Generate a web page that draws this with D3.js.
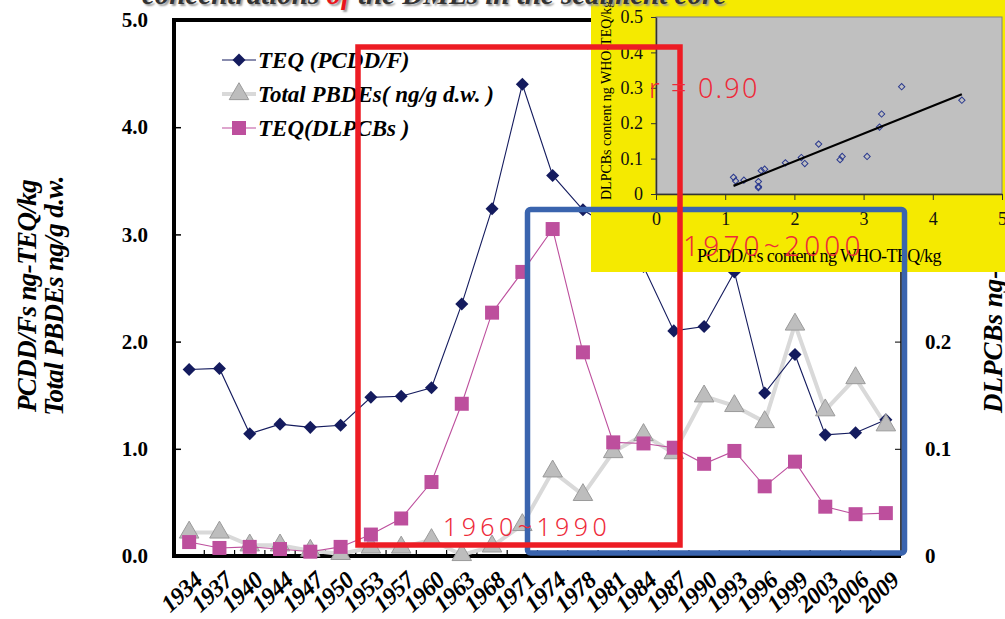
<!DOCTYPE html>
<html><head><meta charset="utf-8">
<script src="https://cdn.jsdelivr.net/npm/d3@7"></script>
<style>body{margin:0;background:#fff;}svg{display:block;}</style>
</head><body>
<svg id="c" width="1005" height="619"></svg>
<script>
const years = ["1934","1937","1940","1944","1947","1950","1953","1957","1960","1963","1968","1971","1974","1978","1981","1984","1987","1990","1993","1996","1999","2003","2006","2009"];
const teqPCDDF = [1.74,1.75,1.14,1.23,1.20,1.22,1.48,1.49,1.57,2.35,3.24,4.40,3.55,3.23,3.05,2.70,2.10,2.14,2.65,1.52,1.88,1.13,1.15,1.27];
const totalPBDEs = [0.22,0.22,0.10,0.10,0.05,0.02,0.08,0.08,0.15,0.01,0.09,0.29,0.79,0.57,0.97,1.13,0.96,1.49,1.40,1.25,2.16,1.36,1.66,1.22];
const teqDLPCBs = [0.013,0.0075,0.0085,0.0065,0.004,0.0085,0.020,0.035,0.069,0.142,0.227,0.265,0.305,0.190,0.106,0.105,0.101,0.086,0.098,0.065,0.088,0.046,0.039,0.040];
const leftTicks = [0,1,2,3,4,5];
const rightTicks = [0,0.1,0.2,0.3,0.4,0.5];
const legendNames = ["TEQ (PCDD/F)","Total PBDEs( ng/g d.w. )","TEQ(DLPCBs )"];
// inset scatter (PCDD/Fs vs DLPCBs)
const scatterX = [1.12,1.15,1.27,1.48,1.48,1.48,1.52,1.57,1.87,2.10,2.15,2.35,2.66,2.69,3.05,3.23,3.26,3.55,4.42];
const scatterY = [0.047,0.037,0.039,0.035,0.021,0.018,0.066,0.070,0.088,0.103,0.086,0.141,0.097,0.106,0.106,0.189,0.226,0.303,0.265];
const fitX = [1.12,4.42];
const fitY = [0.023,0.282];
const insetXTicks = [0,1,2,3,4,5];
const insetYTicks = [0,0.1,0.2,0.3,0.4,0.5];

const svg = d3.select("#c");
const L=174,R=901,T=20,B=556;
const x = d3.scalePoint().domain(years).range([L,R]).padding(0.5);
const y = d3.scaleLinear().domain([0,5]).range([B,T]);
const y2 = d3.scaleLinear().domain([0,0.5]).range([B,T]);
const serif = "Liberation Serif, Times New Roman, serif";

// axes
const gl = svg.append("g").attr("transform",`translate(${L},0)`)
  .call(d3.axisLeft(y).tickValues(leftTicks).tickFormat(d3.format(".1f")).tickSizeInner(-7).tickSizeOuter(0).tickPadding(26));
gl.select(".domain").remove();
gl.selectAll("text").attr("font-family",serif).attr("font-weight","bold").attr("font-size",21).attr("fill","#000");
gl.selectAll("line").attr("stroke","#000").attr("stroke-width",1.5);
gl.selectAll(".tick").filter(d=>d===0||d===5).select("line").remove();

const gr = svg.append("g").attr("transform",`translate(${R},0)`)
  .call(d3.axisRight(y2).tickValues(rightTicks.slice(0,3)).tickFormat(d=>d===0?"0":d3.format(".1f")(d)).tickSizeInner(-6).tickSizeOuter(0).tickPadding(24));
gr.select(".domain").remove();
gr.selectAll("text").attr("font-family",serif).attr("font-weight","bold").attr("font-size",21).attr("fill","#000");
gr.selectAll("line").attr("stroke","#000");
gr.selectAll(".tick").filter(d=>d===0).select("line").remove();

// x ticks at band boundaries
const step = x.step();
svg.append("g").selectAll("line").data(years.slice(1)).join("line")
  .attr("x1",d=>x(d)-step/2).attr("x2",d=>x(d)-step/2).attr("y1",B).attr("y2",B-6)
  .attr("stroke","#000").attr("stroke-width",1.2);
svg.append("g").selectAll("text").data(years).join("text")
  .attr("transform",d=>`translate(${x(d)+9},${B+20}) rotate(-43)`)
  .attr("text-anchor","end").attr("dy","0.35em")
  .attr("font-family",serif).attr("font-weight","bold").attr("font-style","italic").attr("font-size",24)
  .attr("letter-spacing",-0.5)
  .text(d=>d);

// frame
svg.append("line").attr("x1",R).attr("x2",R).attr("y1",T).attr("y2",B).attr("stroke","#000").attr("stroke-width",1.5);
svg.append("path").attr("d",`M${L},${T}H${R}M${L},${T-2}V${B}H${R}`).attr("stroke","#000").attr("stroke-width",4).attr("fill","none");

// axis titles
const yl = svg.append("text").attr("transform","translate(36,296) rotate(-90)").attr("text-anchor","middle")
  .attr("font-family",serif).attr("font-weight","bold").attr("font-style","italic").attr("font-size",27).attr("letter-spacing",-0.6);
yl.append("tspan").attr("x",0).attr("dy",0).text("PCDD/Fs ng-TEQ/kg");
yl.append("tspan").attr("x",0).attr("dy",27).text("Total PBDEs ng/g d.w.");
svg.append("text").attr("transform","translate(1002,413) rotate(-90)").attr("text-anchor","start")
  .attr("font-family",serif).attr("font-weight","bold").attr("font-style","italic").attr("font-size",27)
  .text("DLPCBs ng-TEQ/kg");

// series
const lineL = d3.line().x((d,i)=>x(years[i])).y(d=>y(d));
const lineR = d3.line().x((d,i)=>x(years[i])).y(d=>y2(d));
const navy="#141b5e", gray="#d9d9d9", pink="#bd4f9d";
svg.append("path").attr("d",lineL(totalPBDEs)).attr("fill","none").attr("stroke",gray).attr("stroke-width",4);
svg.append("path").attr("d",lineL(teqPCDDF)).attr("fill","none").attr("stroke",navy).attr("stroke-width",1.1);
svg.append("g").selectAll("path").data(teqPCDDF).join("path")
  .attr("d",d3.symbol(d3.symbolSquare,85)()).attr("transform",(d,i)=>`translate(${x(years[i])},${y(d)}) rotate(45)`)
  .attr("fill",navy);
svg.append("g").selectAll("path").data(totalPBDEs).join("path")
  .attr("d",d3.symbol(d3.symbolTriangle,165)()).attr("transform",(d,i)=>`translate(${x(years[i])},${y(d)})`)
  .attr("fill","#bdbdbd").attr("stroke","#9a9a9a").attr("stroke-width",1);
svg.append("path").attr("d",lineR(teqDLPCBs)).attr("fill","none").attr("stroke",pink).attr("stroke-width",1.1);
svg.append("g").selectAll("path").data(teqDLPCBs).join("path")
  .attr("d",d3.symbol(d3.symbolSquare,196)()).attr("transform",(d,i)=>`translate(${x(years[i])},${y2(d)})`)
  .attr("fill",pink);

// legend
const legY=[60,94,128];
const lg = svg.append("g");
legendNames.forEach((n,i)=>{
  const g = lg.append("g").attr("transform",`translate(0,${legY[i]})`);
  g.append("line").attr("x1",222).attr("x2",256).attr("stroke",[navy,gray,pink][i]).attr("stroke-width",[1.1,4,1.1][i]);
  if(i===0) g.append("path").attr("d",d3.symbol(d3.symbolSquare,85)()).attr("transform","translate(239,0) rotate(45)").attr("fill",navy);
  if(i===1) g.append("path").attr("d",d3.symbol(d3.symbolTriangle,165)()).attr("transform","translate(239,0)").attr("fill","#bdbdbd").attr("stroke","#9a9a9a");
  if(i===2) g.append("path").attr("d",d3.symbol(d3.symbolSquare,196)()).attr("transform","translate(239,0)").attr("fill",pink);
  g.append("text").attr("x",258).attr("dy","0.35em").attr("font-family",serif).attr("font-weight","bold").attr("font-style","italic").attr("font-size",23).text(n);
});

// inset
const IL=656,IR=1002,IT=17,IB=194;
svg.append("rect").attr("x",591).attr("y",0).attr("width",414).attr("height",272).attr("fill","#f5ea00");
svg.append("rect").attr("x",IL).attr("y",IT).attr("width",IR-IL).attr("height",IB-IT).attr("fill","#c0c0c0").attr("stroke","#808080").attr("stroke-width",1);
const ix = d3.scaleLinear().domain([0,5]).range([IL,IR]);
const iy = d3.scaleLinear().domain([0,0.5]).range([IB,IT]);
const gix = svg.append("g").attr("transform",`translate(0,${IB})`)
  .call(d3.axisBottom(ix).tickValues(insetXTicks).tickFormat(d3.format("d")).tickSizeInner(6).tickSizeOuter(0).tickPadding(12));
gix.select(".domain").attr("stroke","#333").attr("stroke-width",1.5);
gix.selectAll("text").attr("font-family",serif).attr("font-size",18).attr("fill","#111");
gix.selectAll("line").attr("stroke","#333");
const giy = svg.append("g").attr("transform",`translate(${IL},0)`)
  .call(d3.axisLeft(iy).tickValues(insetYTicks).tickFormat(d=>d===0?"0":d3.format(".1f")(d)).tickSizeInner(5).tickSizeOuter(0).tickPadding(8));
giy.select(".domain").attr("stroke","#333").attr("stroke-width",1.5);
giy.selectAll("text").attr("font-family",serif).attr("font-size",18).attr("fill","#111");
giy.selectAll("line").attr("stroke","#333");
svg.append("g").selectAll("path").data(scatterX).join("path")
  .attr("d",d3.symbol(d3.symbolSquare,20)()).attr("transform",(d,i)=>`translate(${ix(d)},${iy(scatterY[i])}) rotate(45)`)
  .attr("fill","none").attr("stroke","#2b3a8f").attr("stroke-width",1);
svg.append("line").attr("x1",ix(fitX[0])).attr("y1",iy(fitY[0])).attr("x2",ix(fitX[1])).attr("y2",iy(fitY[1])).attr("stroke","#000").attr("stroke-width",2.2);
svg.append("text").attr("x",819).attr("y",262).attr("text-anchor","middle").attr("font-family",serif).attr("font-size",18).attr("letter-spacing",-0.6).text("PCDD/Fs content ng WHO-TEQ/kg");
svg.append("text").attr("transform","translate(611,200) rotate(-90)").attr("font-family",serif).attr("font-size",14).text("DLPCBs content ng WHO-TEQ/kg");

// title (cut off at top)
const tt = svg.append("text").attr("x",142).attr("y",4).attr("font-family",serif).attr("font-weight","bold").attr("font-style","italic").attr("font-size",29)
  .attr("fill","#333").attr("style","text-shadow:2px 2px 2px #999");
tt.append("tspan").text("concentrations ");
tt.append("tspan").attr("fill","#e8141c").text("of");
tt.append("tspan").text(" the DMLs in the sediment core");

// highlight boxes
svg.append("rect").attr("x",527.5).attr("y",209.5).attr("width",377).attr("height",343.5).attr("rx",3)
  .attr("fill","none").attr("stroke","#3a64ae").attr("stroke-width",5.5);
svg.append("rect").attr("x",358).attr("y",47).attr("width",322).attr("height",498)
  .attr("fill","none").attr("stroke","#ed1c24").attr("stroke-width",5.5);

// annotations
const sans = "Noto Sans, Open Sans, sans-serif";
svg.append("text").attr("x",649).attr("y",98).attr("font-family",sans).attr("font-weight",300).attr("font-size",27).attr("letter-spacing",2.2).attr("fill","#ee2a3a").text("r = 0.90");
svg.append("text").attr("x",683).attr("y",256).attr("font-family",sans).attr("font-weight",300).attr("font-size",28).attr("letter-spacing",4.2).attr("fill","#ee2a3a").text("1970~2000");
svg.append("text").attr("x",443).attr("y",536).attr("font-family",sans).attr("font-weight",300).attr("font-size",25).attr("letter-spacing",4.4).attr("fill","#ee2a3a").text("1960~1990");
</script>
</body></html>
